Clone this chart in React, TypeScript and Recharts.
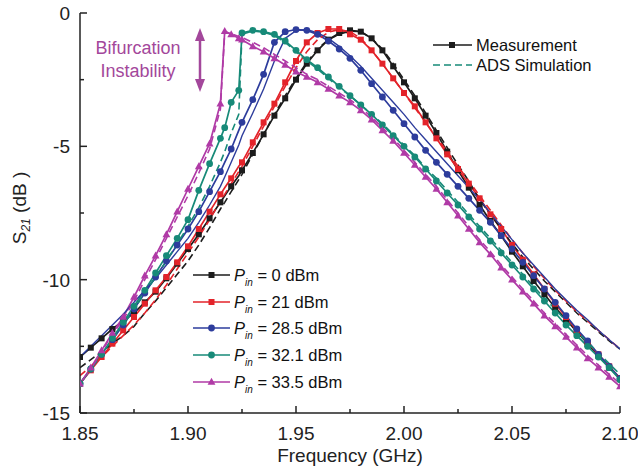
import React from "react";
import { Line, LineChart, XAxis, YAxis } from "recharts";

// frequency grid (GHz); 1.917 and 1.9235 are extra points around the jumps
const freq = [
  1.85, 1.855, 1.86, 1.865, 1.87, 1.875, 1.88, 1.885, 1.89, 1.895,
  1.9, 1.905, 1.91, 1.915, 1.917, 1.92, 1.9235, 1.925, 1.93, 1.935,
  1.94, 1.945, 1.95, 1.955, 1.96, 1.965, 1.97, 1.975, 1.98, 1.985,
  1.99, 1.995, 2.0, 2.005, 2.01, 2.015, 2.02, 2.025, 2.03, 2.035,
  2.04, 2.045, 2.05, 2.055, 2.06, 2.065, 2.07, 2.075, 2.08, 2.085,
  2.09, 2.095, 2.1,
];
const extraIdx = [14, 16];

// measurement, S21 in dB
const meas0 = [
  -12.9, -12.55, -12.2, -11.85, -11.55, -11.25, -10.85, -10.45, -9.95, -9.4,
  -8.85, -8.3, -7.7, -7.1, -6.85, -6.5, -6.1, -5.9, -5.25, -4.55,
  -3.85, -3.2, -2.5, -1.9, -1.4, -1.0, -0.75, -0.65, -0.7, -0.95,
  -1.4, -2.0, -2.6, -3.2, -3.85, -4.5, -5.2, -5.9, -6.55, -7.2,
  -7.8, -8.35, -8.95, -9.5, -10.05, -10.55, -11.05, -11.5, -11.95, -12.4,
  -12.85, -13.3, -13.7,
];
const meas21 = [
  -13.9, -13.4, -12.9, -12.4, -11.9, -11.4, -10.9, -10.4, -9.9, -9.35,
  -8.75, -8.1, -7.45, -6.8, -6.55, -6.2, -5.75, -5.6, -4.85, -4.1,
  -3.4, -2.6, -1.8, -1.1, -0.75, -0.6, -0.6, -0.8, -1.0, -1.4,
  -1.9, -2.45, -3.0, -3.5, -4.1, -4.7, -5.3, -5.85, -6.4, -6.95,
  -7.55, -8.1, -8.7, -9.25, -9.8, -10.35, -10.9, -11.4, -11.9, -12.35,
  -12.8, -13.25, -13.7,
];
const meas285 = [
  -13.9, -13.35, -12.8, -12.25, -11.7, -11.1, -10.5, -9.9, -9.3, -8.7,
  -8.1, -7.45, -6.7, -5.95, -5.6, -5.1, -4.4, -4.1, -3.25, -2.3,
  -1.1, -0.7, -0.62, -0.65, -0.8, -1.05, -1.35, -1.7, -2.15, -2.65,
  -3.15, -3.65, -4.15, -4.65, -5.15, -5.6, -6.05, -6.5, -6.95, -7.4,
  -7.85, -8.35, -8.85, -9.35, -9.85, -10.35, -10.85, -11.35, -11.85, -12.3,
  -12.8, -13.25, -13.7,
];
const meas321 = [
  -13.9, -13.35, -12.8, -12.2, -11.6, -11.0, -10.4, -9.75, -9.1, -8.45,
  -7.75, -6.65, -5.65, -4.7, -4.3, -3.35, -2.9, -0.75, -0.65, -0.7,
  -0.8, -1.05, -1.4, -1.75, -2.05, -2.4, -2.75, -3.1, -3.45, -3.8,
  -4.2, -4.6, -5.0, -5.4, -5.85, -6.3, -6.75, -7.2, -7.65, -8.1,
  -8.55, -9.0, -9.45, -9.9, -10.35, -10.8, -11.25, -11.7, -12.1, -12.5,
  -12.9, -13.3, -13.75,
];
const meas335 = [
  -13.9, -13.3, -12.65, -12.0, -11.4, -10.65, -9.85, -9.1, -8.3, -7.45,
  -6.6, -5.75, -4.9, -3.4, -0.68, -0.8, -0.95, -1.0, -1.25, -1.45,
  -1.7, -1.95, -2.2, -2.4, -2.6, -2.85, -3.1, -3.35, -3.65, -4.0,
  -4.4, -4.8, -5.25, -5.7, -6.15, -6.6, -7.1, -7.6, -8.1, -8.6,
  -9.05, -9.55, -10.0, -10.45, -10.9, -11.35, -11.75, -12.15, -12.55, -12.95,
  -13.3, -13.65, -14.0,
];

// ADS simulation, S21 in dB
const sim0 = [
  -13.3, -13.0, -12.7, -12.4, -12.1, -11.75, -11.25, -10.8, -10.3, -9.8,
  -9.3, -8.7, -8.05, -7.35, -7.1, -6.7, -6.25, -6.05, -5.3, -4.55,
  -3.8, -3.1, -2.45, -1.85, -1.35, -1.0, -0.8, -0.68, -0.7, -0.95,
  -1.35, -1.9, -2.5, -3.1, -3.75, -4.4, -5.05, -5.7, -6.3, -7.0,
  -7.55, -8.1, -8.65, -9.15, -9.6, -10.05, -10.45, -10.85, -11.25, -11.6,
  -11.95, -12.3, -12.6,
];
const sim21 = [
  -13.6, -13.25, -12.9, -12.5, -12.1, -11.7, -11.25, -10.75, -10.2, -9.6,
  -9.0, -8.4, -7.75, -7.05, -6.8, -6.4, -5.95, -5.75, -5.0, -4.25,
  -3.5, -2.75, -2.05, -1.45, -1.0, -0.72, -0.62, -0.7, -0.95, -1.4,
  -1.9, -2.45, -3.0, -3.55, -4.1, -4.65, -5.2, -5.75, -6.3, -6.85,
  -7.4, -7.95, -8.5, -9.0, -9.5, -9.95, -10.4, -10.8, -11.2, -11.55,
  -11.9, -12.25, -12.6,
];
const sim285 = [
  -12.9, -12.5, -12.1, -11.7, -11.3, -10.85, -10.4, -9.95, -9.45, -8.95,
  -8.45, -7.85, -7.2, -6.5, -6.15, -5.6, -4.95, -4.6, -3.75, -2.85,
  -1.8, -0.95, -0.66, -0.62, -0.75, -0.95, -1.25, -1.6, -2.0, -2.45,
  -2.9, -3.35, -3.8, -4.3, -4.75, -5.2, -5.65, -6.1, -6.55, -7.0,
  -7.5, -8.0, -8.5, -9.0, -9.45, -9.9, -10.35, -10.75, -11.15, -11.5,
  -11.9, -12.25, -12.6,
];
const sim321 = [
  -13.9, -13.35, -12.8, -12.25, -11.7, -11.1, -10.5, -9.9, -9.3, -8.65,
  -8.0, -7.3, -6.5, -5.6, -5.2, -4.5, -3.8, -0.8, -0.68, -0.72,
  -0.85, -1.1, -1.45, -1.8, -2.1, -2.45, -2.8, -3.1, -3.45, -3.8,
  -4.15, -4.55, -4.95, -5.35, -5.8, -6.2, -6.65, -7.1, -7.55, -8.0,
  -8.45, -8.9, -9.35, -9.8, -10.25, -10.7, -11.1, -11.55, -11.95, -12.35,
  -12.75, -13.15, -13.55,
];
const sim335 = [
  -13.9, -13.35, -12.7, -12.05, -11.5, -10.8, -10.0, -9.25, -8.45, -7.65,
  -6.85, -6.0, -5.1, -3.6, -0.72, -0.78, -0.88, -0.92, -1.1, -1.3,
  -1.55, -1.8, -2.05, -2.3, -2.5, -2.75, -3.0, -3.25, -3.55, -3.9,
  -4.3, -4.7, -5.15, -5.6, -6.05, -6.5, -7.0, -7.5, -8.0, -8.5,
  -8.95, -9.45, -9.9, -10.35, -10.8, -11.25, -11.65, -12.05, -12.45, -12.85,
  -13.2, -13.55, -13.9,
];

const powers = ["0", "21", "28.5", "32.1", "33.5"];
const colors = ["#1c1c1c", "#e3232a", "#2d3c9c", "#178a78", "#b03aa6"];
const shapes = ["square", "square", "circle", "circle", "triangle"];
const measured = [meas0, meas21, meas285, meas321, meas335];
const simulated = [sim0, sim21, sim285, sim321, sim335];

const xTicks = [1.85, 1.875, 1.9, 1.925, 1.95, 1.975, 2.0, 2.025, 2.05, 2.075, 2.1];
const yTicks = [-15, -12.5, -10, -7.5, -5, -2.5, 0];

const rows = freq.map((f, i) => {
  const row: Record<string, number> = { f };
  measured.forEach((s, k) => (row[`m${k}`] = s[i]));
  simulated.forEach((s, k) => (row[`s${k}`] = s[i]));
  return row;
});

const FONT = '"Liberation Sans", Arial, sans-serif';
const AXIS = "#222";
const ANNOT = "#a3479b";

function Marker({ cx, cy, shape, color }: any) {
  if (shape === "square")
    return <rect x={cx - 3} y={cy - 3} width={6} height={6} fill={color} />;
  if (shape === "circle") return <circle cx={cx} cy={cy} r={3.4} fill={color} />;
  return (
    <polygon
      points={`${cx},${cy - 4.2} ${cx + 3.9},${cy + 2.8} ${cx - 3.9},${cy + 2.8}`}
      fill={color}
    />
  );
}

function BottomTick({ x, y, index, payload }: any) {
  const major = index % 2 === 0;
  return (
    <g>
      <line x1={x} y1={y} x2={x} y2={y - (major ? 7 : 4)} stroke={AXIS} strokeWidth={1.5} />
      {major && (
        <text x={x} y={y + 27} textAnchor="middle" fontSize={19} fill="#222" fontFamily={FONT}>
          {payload.value.toFixed(2)}
        </text>
      )}
    </g>
  );
}

function TopTick({ x, y, index }: any) {
  const major = index % 2 === 0;
  return <line x1={x} y1={y} x2={x} y2={y + (major ? 7 : 4)} stroke={AXIS} strokeWidth={1.5} />;
}

function LeftTick({ x, y, index, payload }: any) {
  const major = index % 2 === 0;
  return (
    <g>
      <line x1={x} y1={y} x2={x + (major ? 7 : 4)} y2={y} stroke={AXIS} strokeWidth={1.5} />
      {major && (
        <text x={x - 10} y={y + 7} textAnchor="end" fontSize={19} fill="#222" fontFamily={FONT}>
          {String(payload.value)}
        </text>
      )}
    </g>
  );
}

function RightTick({ x, y, index }: any) {
  const major = index % 2 === 0;
  return <line x1={x} y1={y} x2={x - (major ? 7 : 4)} y2={y} stroke={AXIS} strokeWidth={1.5} />;
}

const legendY = [275, 302, 328, 355, 382];

export default function App() {
  return (
    <div
      style={{
        position: "absolute",
        left: 0,
        top: 0,
        width: 638,
        height: 474,
        background: "#fff",
        fontFamily: FONT,
      }}
    >
      <LineChart width={638} height={474} data={rows} margin={{ top: 13, right: 18, bottom: 31, left: 0 }}>
        <XAxis
          dataKey="f"
          type="number"
          domain={[1.85, 2.1]}
          ticks={xTicks}
          interval={0}
          allowDataOverflow
          height={30}
          tickSize={0}
          tickMargin={0}
          tickLine={false}
          axisLine={{ stroke: AXIS, strokeWidth: 1.5 }}
          tick={<BottomTick />}
        />
        <XAxis
          xAxisId="top"
          orientation="top"
          type="number"
          domain={[1.85, 2.1]}
          ticks={xTicks}
          interval={0}
          allowDataOverflow
          height={0}
          tickSize={0}
          tickMargin={0}
          tickLine={false}
          axisLine={{ stroke: AXIS, strokeWidth: 1.5 }}
          tick={<TopTick />}
        />
        <YAxis
          type="number"
          domain={[-15, 0]}
          ticks={yTicks}
          interval={0}
          allowDataOverflow
          width={80}
          tickSize={0}
          tickMargin={0}
          tickLine={false}
          axisLine={{ stroke: AXIS, strokeWidth: 1.5 }}
          tick={<LeftTick />}
        />
        <YAxis
          yAxisId="right"
          orientation="right"
          type="number"
          domain={[-15, 0]}
          ticks={yTicks}
          interval={0}
          allowDataOverflow
          width={0}
          tickSize={0}
          tickMargin={0}
          tickLine={false}
          axisLine={{ stroke: AXIS, strokeWidth: 1.5 }}
          tick={<RightTick />}
        />

        {measured.map((_, k) => (
          <Line
            key={`m${k}`}
            dataKey={`m${k}`}
            stroke={colors[k]}
            strokeWidth={1.7}
            isAnimationActive={false}
            activeDot={false}
            dot={(p: any) => {
              const hide = k < 3 && extraIdx.includes(p.index);
              return hide ? (
                <g key={`dm${k}-${p.index}`} />
              ) : (
                <Marker key={`dm${k}-${p.index}`} cx={p.cx} cy={p.cy} shape={shapes[k]} color={colors[k]} />
              );
            }}
          />
        ))}
        {simulated.map((_, k) => (
          <Line
            key={`s${k}`}
            dataKey={`s${k}`}
            stroke={colors[k]}
            strokeWidth={k === 2 ? 1.4 : 1.6}
            strokeDasharray={k === 2 ? undefined : "7 4"}
            dot={false}
            activeDot={false}
            isAnimationActive={false}
          />
        ))}
      </LineChart>

      <svg
        width={638}
        height={474}
        style={{ position: "absolute", left: 0, top: 0, pointerEvents: "none" }}
        fontFamily={FONT}
      >
        {/* axis titles */}
        <text x={350} y={462} textAnchor="middle" fontSize={19} fill="#222">
          Frequency (GHz)
        </text>
        <text transform="translate(26,208) rotate(-90)" textAnchor="middle" fontSize={19} fill="#222">
          S
          <tspan fontSize={12} fontStyle="italic" dy={4}>
            21
          </tspan>
          <tspan dy={-4}> (dB )</tspan>
        </text>

        {/* annotation */}
        <text x={138} y={54} textAnchor="middle" fontSize={18} fill={ANNOT}>
          Bifurcation
        </text>
        <text x={138} y={77} textAnchor="middle" fontSize={18} fill={ANNOT}>
          Instability
        </text>
        <line x1={200} y1={36} x2={200} y2={84} stroke={ANNOT} strokeWidth={2.5} />
        <polygon points="200,28 195,41 205,41" fill={ANNOT} />
        <polygon points="200,92 195,79 205,79" fill={ANNOT} />

        {/* top-right legend */}
        <line x1={433} y1={45} x2={472} y2={45} stroke={colors[0]} strokeWidth={1.6} />
        <Marker cx={452} cy={45} shape="square" color={colors[0]} />
        <text x={476} y={51} fontSize={16.5} fill="#111">
          Measurement
        </text>
        <line x1={433} y1={65} x2={472} y2={65} stroke={colors[3]} strokeWidth={1.6} strokeDasharray="7 4" />
        <text x={476} y={71} fontSize={16.5} fill="#111">
          ADS Simulation
        </text>

        {/* power legend */}
        {powers.map((p, k) => (
          <g key={p}>
            <line x1={193} y1={legendY[k]} x2={230} y2={legendY[k]} stroke={colors[k]} strokeWidth={1.6} />
            <Marker cx={211.5} cy={legendY[k]} shape={shapes[k]} color={colors[k]} />
            <text x={234} y={legendY[k] + 6} fontSize={16.5} fill="#111">
              <tspan fontStyle="italic">P</tspan>
              <tspan fontSize={10} fontStyle="italic" dy={5}>
                in
              </tspan>
              <tspan dy={-5}>{` = ${p} dBm`}</tspan>
            </text>
          </g>
        ))}
      </svg>
    </div>
  );
}
